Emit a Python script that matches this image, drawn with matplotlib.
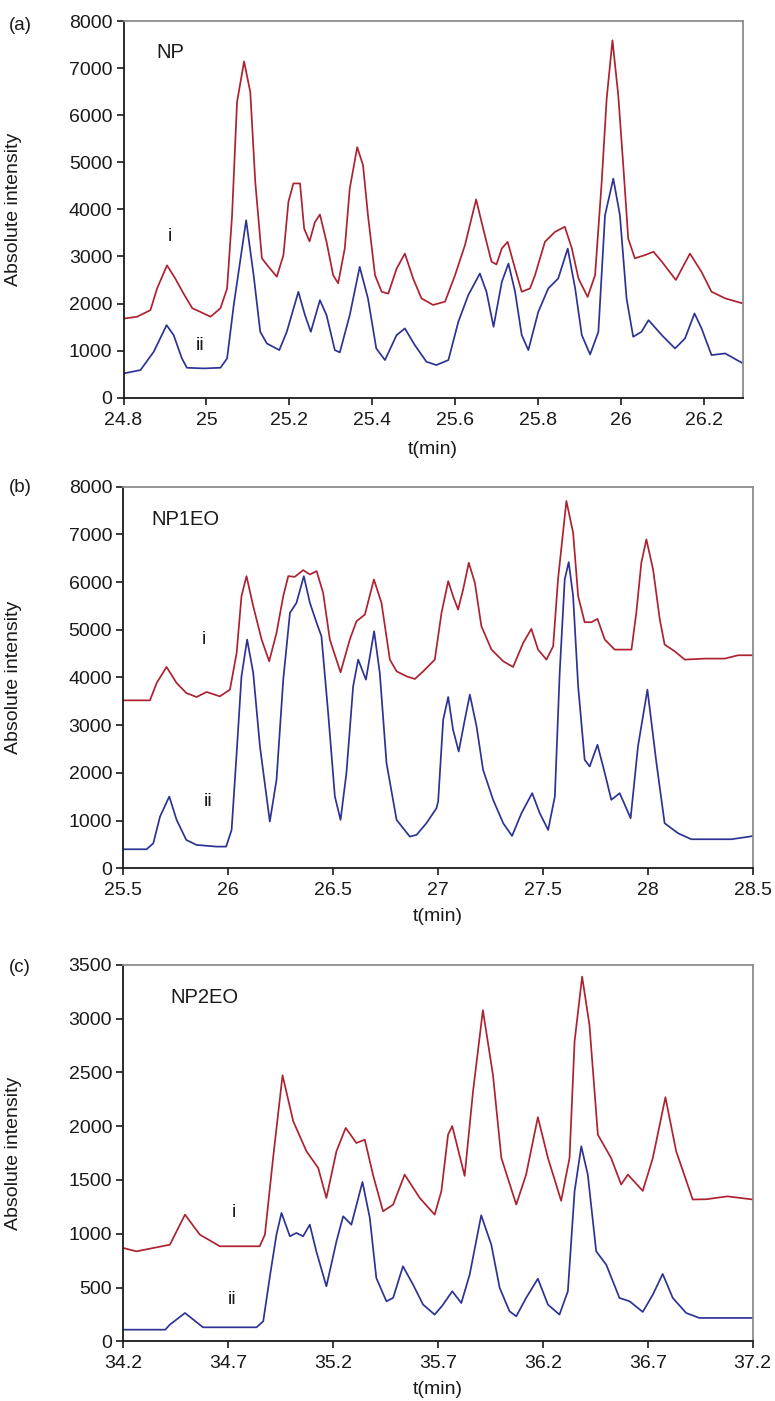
import matplotlib
matplotlib.use('Agg')
import matplotlib.pyplot as plt

plt.rcParams['font.family'] = ['Liberation Sans', 'DejaVu Sans']

RED = '#ad2230'
BLUE = '#2d3394'

# (a) NP  -- (t, intensity)
np_i = [(24.801, 1680), (24.833, 1720), (24.865, 1860), (24.881, 2320), (24.905, 2810), (24.925, 2530),
        (24.945, 2210), (24.966, 1900), (24.986, 1820), (25.01, 1720), (25.034, 1900), (25.05, 2320),
        (25.062, 3870), (25.074, 6280), (25.091, 7140), (25.106, 6490), (25.118, 4580), (25.134, 2960),
        (25.15, 2780), (25.17, 2570), (25.186, 3030), (25.198, 4160), (25.21, 4550), (25.226, 4550),
        (25.236, 3590), (25.249, 3320), (25.262, 3730), (25.274, 3890), (25.29, 3310), (25.306, 2600),
        (25.318, 2430), (25.334, 3170), (25.346, 4440), (25.364, 5320), (25.378, 4940), (25.39, 3870),
        (25.407, 2600), (25.423, 2250), (25.439, 2210), (25.459, 2740), (25.479, 3060), (25.499, 2530),
        (25.519, 2110), (25.547, 1970), (25.576, 2040), (25.6, 2600), (25.624, 3240), (25.651, 4210),
        (25.668, 3590), (25.688, 2890), (25.7, 2830), (25.713, 3170), (25.727, 3310), (25.745, 2740),
        (25.761, 2250), (25.781, 2320), (25.793, 2600), (25.817, 3310), (25.841, 3520), (25.865, 3630),
        (25.882, 3170), (25.898, 2530), (25.92, 2140), (25.938, 2600), (25.954, 4580), (25.966, 6350),
        (25.98, 7590), (25.994, 6420), (26.006, 4940), (26.018, 3380), (26.034, 2960), (26.059, 3030),
        (26.079, 3100), (26.099, 2890), (26.133, 2500), (26.167, 3060), (26.195, 2670), (26.219, 2250),
        (26.252, 2110), (26.295, 2000)]
np_ii = [(24.801, 516), (24.841, 587), (24.873, 976), (24.904, 1541), (24.921, 1329), (24.941, 834),
         (24.953, 636), (24.994, 622), (25.034, 636), (25.05, 834), (25.066, 1965), (25.096, 3768),
         (25.114, 2602), (25.13, 1399), (25.146, 1152), (25.176, 1011), (25.194, 1399), (25.222, 2248),
         (25.238, 1753), (25.252, 1399), (25.274, 2071), (25.29, 1753), (25.31, 1011), (25.322, 962),
         (25.346, 1753), (25.37, 2779), (25.39, 2107), (25.41, 1046), (25.431, 799), (25.459, 1329),
         (25.479, 1471), (25.503, 1117), (25.531, 764), (25.555, 693), (25.584, 799), (25.608, 1612),
         (25.632, 2178), (25.66, 2637), (25.676, 2248), (25.693, 1506), (25.713, 2460), (25.729, 2849),
         (25.745, 2248), (25.761, 1329), (25.777, 1011), (25.801, 1824), (25.825, 2319), (25.849, 2531),
         (25.872, 3167), (25.89, 2319), (25.906, 1329), (25.926, 919), (25.946, 1399), (25.962, 3874),
         (25.982, 4652), (25.998, 3874), (26.014, 2107), (26.03, 1294), (26.05, 1399), (26.067, 1647),
         (26.099, 1329), (26.131, 1046), (26.155, 1258), (26.178, 1789), (26.195, 1471), (26.219, 905),
         (26.252, 940), (26.295, 728)]

# (b) NP1EO
np1eo_i = [(25.5, 3521), (25.627, 3521), (25.659, 3885), (25.706, 4221), (25.754, 3885), (25.80, 3675),
           (25.849, 3591), (25.897, 3696), (25.96, 3605), (26.008, 3745), (26.04, 4515), (26.063, 5705),
           (26.087, 6125), (26.119, 5495), (26.159, 4795), (26.195, 4340), (26.23, 4935), (26.262, 5705),
           (26.286, 6125), (26.317, 6111), (26.357, 6251), (26.389, 6160), (26.421, 6230), (26.452, 5775),
           (26.484, 4795), (26.535, 4109), (26.579, 4795), (26.611, 5180), (26.651, 5320), (26.694, 6055),
           (26.73, 5565), (26.77, 4375), (26.802, 4130), (26.849, 4025), (26.889, 3969), (26.929, 4130),
           (26.984, 4375), (27.016, 5355), (27.048, 6020), (27.071, 5705), (27.095, 5425), (27.119, 5845),
           (27.146, 6405), (27.175, 5985), (27.206, 5075), (27.254, 4585), (27.31, 4340), (27.357, 4221),
           (27.405, 4725), (27.444, 5019), (27.476, 4585), (27.516, 4375), (27.548, 4655), (27.571, 6055),
           (27.611, 7700), (27.643, 7035), (27.667, 5705), (27.698, 5159), (27.73, 5159), (27.759, 5229),
           (27.794, 4795), (27.841, 4585), (27.921, 4585), (27.944, 5355), (27.968, 6405), (27.992, 6895),
           (28.024, 6265), (28.056, 5215), (28.079, 4690), (28.127, 4550), (28.175, 4375), (28.27, 4396),
           (28.365, 4396), (28.429, 4466), (28.5, 4466)]
np1eo_ii = [(25.5, 399), (25.611, 399), (25.643, 525), (25.675, 1085), (25.719, 1505), (25.754, 1015),
            (25.80, 595), (25.849, 490), (25.944, 455), (25.99, 455), (26.016, 805), (26.04, 2415),
            (26.063, 4025), (26.09, 4795), (26.119, 4095), (26.151, 2555), (26.198, 980), (26.23, 1855),
            (26.262, 3955), (26.294, 5355), (26.325, 5565), (26.36, 6125), (26.389, 5565), (26.421, 5145),
            (26.444, 4865), (26.476, 3255), (26.508, 1505), (26.535, 1015), (26.563, 1995), (26.595, 3815),
            (26.619, 4375), (26.656, 3955), (26.695, 4970), (26.722, 4095), (26.754, 2205), (26.802, 1015),
            (26.865, 665), (26.897, 700), (26.944, 945), (26.992, 1260), (27.0, 1400), (27.024, 3115),
            (27.048, 3591), (27.071, 2905), (27.098, 2450), (27.127, 3115), (27.151, 3640), (27.183, 2975),
            (27.214, 2065), (27.262, 1435), (27.31, 945), (27.352, 679), (27.397, 1155), (27.448, 1575),
            (27.484, 1155), (27.524, 805), (27.556, 1505), (27.579, 4095), (27.603, 6055), (27.622, 6419),
            (27.643, 5705), (27.667, 3815), (27.698, 2275), (27.722, 2135), (27.759, 2590), (27.794, 1995),
            (27.825, 1435), (27.865, 1575), (27.917, 1050), (27.952, 2555), (27.997, 3745), (28.04, 2205),
            (28.079, 945), (28.143, 735), (28.206, 609), (28.397, 609), (28.484, 665), (28.5, 680)]

# (c) NP2EO
np2eo_i = [(34.2, 867), (34.263, 836), (34.422, 898), (34.494, 1177), (34.565, 991), (34.62, 929),
           (34.66, 883), (34.85, 883), (34.875, 991), (34.914, 1704), (34.959, 2472), (35.01, 2045),
           (35.073, 1766), (35.129, 1611), (35.168, 1332), (35.216, 1766), (35.26, 1983), (35.311, 1843),
           (35.351, 1874), (35.39, 1549), (35.438, 1208), (35.486, 1270), (35.541, 1549), (35.613, 1332),
           (35.684, 1177), (35.716, 1394), (35.748, 1921), (35.768, 2000), (35.827, 1537), (35.867, 2324),
           (35.914, 3077), (35.962, 2475), (36.002, 1704), (36.073, 1271), (36.12, 1549), (36.176, 2083),
           (36.224, 1704), (36.287, 1306), (36.327, 1704), (36.351, 2787), (36.387, 3389), (36.422, 2938),
           (36.462, 1920), (36.525, 1704), (36.573, 1457), (36.605, 1549), (36.676, 1398), (36.724, 1704),
           (36.784, 2268), (36.835, 1768), (36.914, 1318), (36.978, 1320), (37.08, 1347), (37.2, 1318)]
np2eo_ii = [(34.2, 108), (34.4, 108), (34.422, 155), (34.494, 263), (34.58, 130), (34.835, 130),
            (34.867, 186), (34.9, 620), (34.93, 991), (34.954, 1193), (34.994, 976), (35.025, 1007),
            (35.057, 976), (35.089, 1084), (35.12, 836), (35.168, 511), (35.216, 929), (35.248, 1162),
            (35.287, 1084), (35.34, 1481), (35.375, 1146), (35.406, 589), (35.454, 372), (35.486, 403),
            (35.533, 697), (35.581, 527), (35.629, 341), (35.684, 248), (35.72, 330), (35.768, 465),
            (35.811, 356), (35.851, 620), (35.906, 1171), (35.954, 898), (35.994, 496), (36.041, 279),
            (36.073, 232), (36.12, 403), (36.176, 582), (36.224, 341), (36.279, 248), (36.319, 465),
            (36.351, 1394), (36.383, 1812), (36.414, 1549), (36.454, 836), (36.502, 712), (36.565, 403),
            (36.613, 372), (36.676, 273), (36.724, 434), (36.771, 626), (36.819, 403), (36.883, 263),
            (36.946, 217), (37.2, 217)]

xt_a = [24.8, 25.0, 25.2, 25.4, 25.6, 25.8, 26.0, 26.2]
xl_a = ['24.8', '25', '25.2', '25.4', '25.6', '25.8', '26', '26.2']
xt_b = [25.5, 26.0, 26.5, 27.0, 27.5, 28.0, 28.5]
xl_b = ['25.5', '26', '26.5', '27', '27.5', '28', '28.5']
xt_c = [34.2, 34.7, 35.2, 35.7, 36.2, 36.7, 37.2]
xl_c = ['34.2', '34.7', '35.2', '35.7', '36.2', '36.7', '37.2']

W, H = 775, 1401
fig = plt.figure(figsize=(W / 100, H / 100), dpi=100)


def make_axes(l, r, t, b):
    return fig.add_axes([l / W, 1 - b / H, (r - l) / W, (b - t) / H])


def panel(ax, red, blue, xlim, xt, xl, ymax, ystep, name, name_xy, i_xy, ii_xy, wpx, lpad):
    ax.plot([p[0] for p in red], [p[1] for p in red], color=RED, lw=1.25)
    ax.plot([p[0] for p in blue], [p[1] for p in blue], color=BLUE, lw=1.25)
    ax.set_xlim(xlim)
    ax.set_ylim(0, ymax)
    ax.set_xticks(xt)
    ax.set_xticklabels(xl)
    ax.set_yticks(range(0, ymax + 1, ystep))
    for s in ['left', 'bottom']:
        ax.spines[s].set_color('#1a1a1a')
        ax.spines[s].set_linewidth(1.3)
    for s in ['top', 'right']:
        ax.spines[s].set_color('#8c8c8c')
        ax.spines[s].set_linewidth(1.3)
    ax.tick_params(direction='out', length=5, width=1.2, labelsize=14, colors='#1a1a1a')
    ax.tick_params(axis='x', pad=5)
    ax.tick_params(axis='y', pad=3)
    ax.set_xlabel('t(min)', fontsize=14, labelpad=lpad, color='#1a1a1a')
    ax.set_ylabel('Absolute intensity', fontsize=14, color='#1a1a1a')
    ax.yaxis.set_label_coords((22 - 123.5) / wpx, 0.5)
    ax.text(name_xy[0], name_xy[1], name, fontsize=14.5, ha='left', va='center', color='#1a1a1a')
    ax.text(i_xy[0], i_xy[1], 'i', fontsize=14, ha='center', va='center', color='#1a1a1a')
    ax.text(ii_xy[0], ii_xy[1], 'ii', fontsize=14, ha='center', va='center', color='#1a1a1a')


ax_a = make_axes(123.5, 743, 21, 397.7)
panel(ax_a, np_i, np_ii, (24.8, 26.295), xt_a, xl_a, 8000, 1000, 'NP',
      (24.88, 7340), (24.911, 3415), (24.986, 1117), 743 - 123.5, 9)

ax_b = make_axes(123.3, 753, 486.7, 868.3)
panel(ax_b, np1eo_i, np1eo_ii, (25.5, 28.5), xt_b, xl_b, 8000, 1000, 'NP1EO',
      (25.635, 7315), (25.884, 4795), (25.905, 1400), 753 - 123.3, 6)

ax_c = make_axes(123.3, 752.7, 964.7, 1341.3)
panel(ax_c, np2eo_i, np2eo_ii, (34.2, 37.2), xt_c, xl_c, 3500, 500, 'NP2EO',
      (34.422, 3197), (34.729, 1193), (34.72, 387), 752.7 - 123.3, 6)

fig.text(20 / W, 1 - 25 / H, '(a)', fontsize=13.5, ha='center', va='center', color='#1a1a1a')
fig.text(20 / W, 1 - 488 / H, '(b)', fontsize=13.5, ha='center', va='center', color='#1a1a1a')
fig.text(20 / W, 1 - 967 / H, '(c)', fontsize=13.5, ha='center', va='center', color='#1a1a1a')

fig.savefig('out.png', dpi=100)
